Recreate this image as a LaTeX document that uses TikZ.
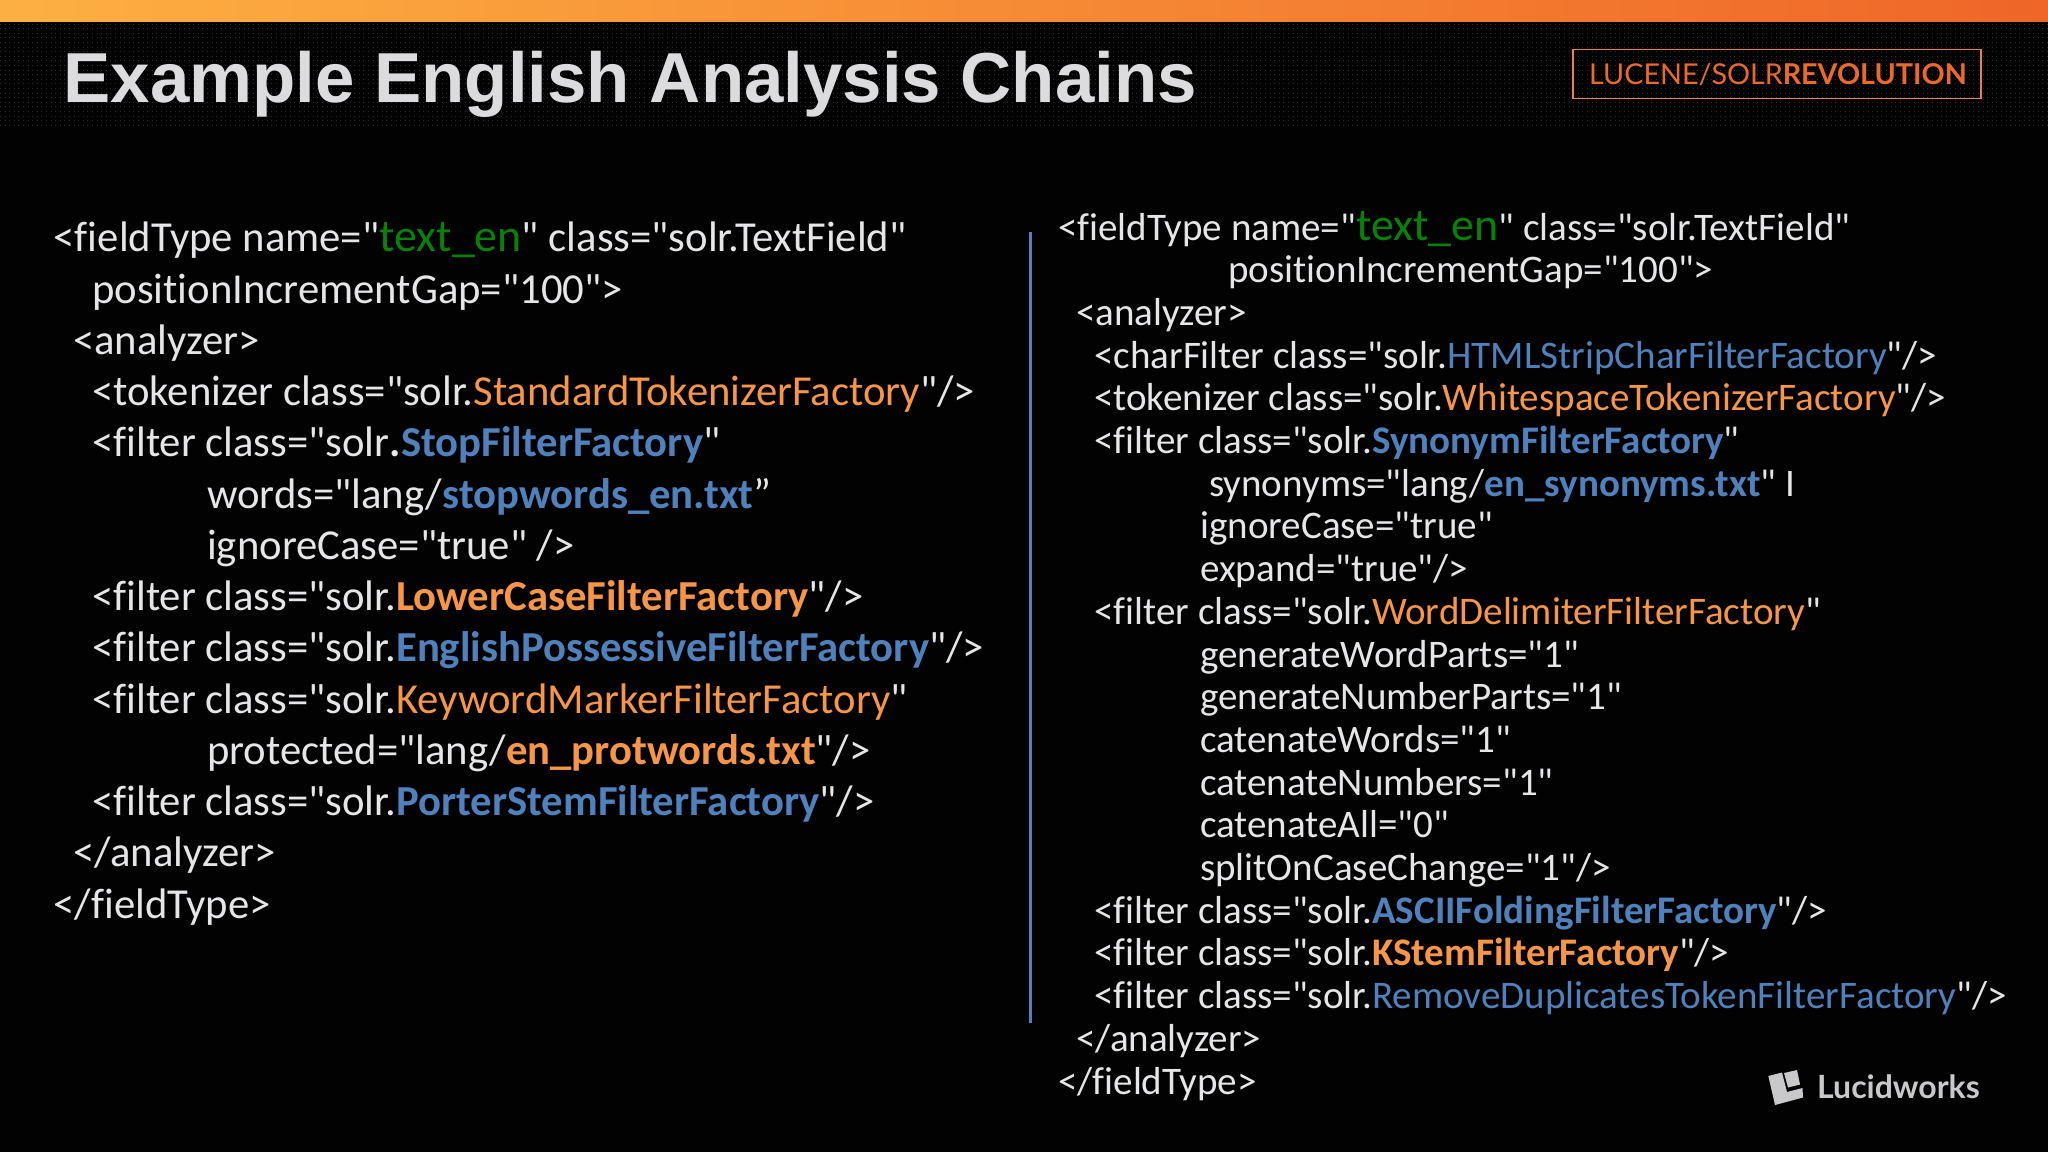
\documentclass[tikz,border=0pt]{standalone}
\usepackage{fontspec}
\setmainfont{Carlito}[Ligatures={TeXOff,NoCommon}]
\newfontfamily\titlefont{Liberation Sans}
\newfontfamily\logofont{Lato}
\definecolor{bgk}{HTML}{020203}
\definecolor{txt}{HTML}{E6E6E8}
\definecolor{blu}{HTML}{4F81BD}
\definecolor{org}{HTML}{F79646}
\definecolor{grn}{HTML}{078107}
\definecolor{ttl}{HTML}{DCDCDE}
\definecolor{rev}{HTML}{EA6A2A}
\definecolor{lgo}{HTML}{C9C8CA}
\definecolor{barl}{HTML}{FDB042}
\definecolor{barr}{HTML}{EF6628}
\newcommand{\Bl}[1]{\textcolor{blu}{#1}}
\newcommand{\Or}[1]{\textcolor{org}{#1}}
\newcommand{\BB}[1]{\textcolor{blu}{\bfseries #1}}
\newcommand{\OB}[1]{\textcolor{org}{\bfseries #1}}
\newcommand{\Gr}[1]{\textcolor{grn}{\fontsize{46}{46}\selectfont #1}}
\begin{document}
\begin{tikzpicture}[x=1pt,y=-1pt,
  lft/.style={anchor=base west,inner sep=0pt,text=txt,font=\fontsize{42.7}{50}\selectfont},
  rgt/.style={anchor=base west,inner sep=0pt,text=txt,font=\fontsize{39.05}{42}\selectfont}]
\useasboundingbox (0,0) rectangle (2048,1152);
\fill[bgk] (0,0) rectangle (2048,1152);
\shade[left color=barl, right color=barr] (0,0) rectangle (2048,21.5);
\foreach \yy in {24,28.6,...,126}{
  \draw[black!83,line width=1pt,dash pattern=on 1pt off 3.6pt] (0,\yy) -- (2048,\yy);
}
\node[anchor=base west,inner sep=0pt,text=ttl,font=\titlefont\bfseries\fontsize{70.8}{80}\selectfont] (title) at (63.5,102) {Example English Analysis Chains};
\node[draw=rev!85!white,line width=1.8pt,minimum width=408pt,minimum height=49pt,inner sep=0pt,anchor=north west] (badge) at (1572,48.5) {};
\node[anchor=base west,inner sep=0pt,text=rev,font=\logofont\fontsize{28.7}{30}\selectfont] (badgetext) at (1589,84) {LUCENE/SOLR{\bfseries REVOLUTION}};
\coordinate (divtop) at (1030.5,232);
\coordinate (divbot) at (1030.5,1023);
\draw[blu,line width=2.8pt] (divtop) -- (divbot);
% left column
\node[lft] (l1) at (53.5,251.7) {<fieldType name="\Gr{text\_en}" class="solr.TextField"};
\node[lft] (l2) at (92,303) {positionIncrementGap="100">};
\node[lft] (l3) at (73,354.2) {<analyzer>};
\node[lft] (l4) at (92,405.5) {<tokenizer class="solr.\Or{StandardTokenizerFactory}"/>};
\node[lft] (l5) at (92,456.7) {<filter class="solr{\bfseries .}\BB{StopFilterFactory}"};
\node[lft] (l6) at (207,508) {words="lang/\BB{stopwords\_en.txt}”};
\node[lft] (l7) at (207,559.2) {ignoreCase="true" />};
\node[lft] (l8) at (92,610.5) {<filter class="solr.\OB{LowerCaseFilterFactory}"/>};
\node[lft] (l9) at (92,661.7) {<filter class="solr.\BB{EnglishPossessiveFilterFactory}"/>};
\node[lft] (l10) at (92,713) {<filter class="solr.\Or{KeywordMarkerFilterFactory}"};
\node[lft] (l11) at (207,764.2) {protected="lang/\OB{en\_protwords.txt}"/>};
\node[lft] (l12) at (92,815.5) {<filter class="solr.\BB{PorterStemFilterFactory}"/>};
\node[lft] (l13) at (73,866.7) {</analyzer>};
\node[lft] (l14) at (53.5,918) {</fieldType>};
% right column
\node[rgt] (r1) at (1058,240) {<fieldType name="\Gr{text\_en}" class="solr.TextField"};
\node[rgt] (r2) at (1228,282.7) {positionIncrementGap="100">};
\node[rgt] (r3) at (1076,325.4) {<analyzer>};
\node[rgt] (r4) at (1094,368.1) {<charFilter class="solr.\Bl{HTMLStripCharFilterFactory}"/>};
\node[rgt] (r5) at (1094,410.8) {<tokenizer class="solr.\Or{WhitespaceTokenizerFactory}"/>};
\node[rgt] (r6) at (1094,453.5) {<filter class="solr.\BB{SynonymFilterFactory}"};
\node[rgt] (r7) at (1209,496.2) {synonyms="lang/\BB{en\_synonyms.txt}" I};
\node[rgt] (r8) at (1200,538.9) {ignoreCase="true"};
\node[rgt] (r9) at (1200,581.6) {expand="true"/>};
\node[rgt] (r10) at (1094,624.3) {<filter class="solr.\Or{WordDelimiterFilterFactory}"};
\node[rgt] (r11) at (1200,667) {generateWordParts="1"};
\node[rgt] (r12) at (1200,709.7) {generateNumberParts="1"};
\node[rgt] (r13) at (1200,752.4) {catenateWords="1"};
\node[rgt] (r14) at (1200,795.1) {catenateNumbers="1"};
\node[rgt] (r15) at (1200,837.8) {catenateAll="0"};
\node[rgt] (r16) at (1200,880.5) {splitOnCaseChange="1"/>};
\node[rgt] (r17) at (1094,923.2) {<filter class="solr.\BB{ASCIIFoldingFilterFactory}"/>};
\node[rgt] (r18) at (1094,965.9) {<filter class="solr.\OB{KStemFilterFactory}"/>};
\node[rgt] (r19) at (1094,1008.6) {<filter class="solr.\Bl{RemoveDuplicatesTokenFilterFactory}"/>};
\node[rgt] (r20) at (1076,1051.3) {</analyzer>};
\node[rgt] (r21) at (1058,1094) {</fieldType>};
% logo
\fill[lgo] (1768.3,1076) -- (1782,1072.5) -- (1787,1092) -- (1802.5,1088) -- (1803,1097.5) -- (1775,1105) -- cycle;
\fill[lgo] (1784,1073) -- (1797,1070) -- (1800,1084.5) -- (1788,1087.5) -- cycle;
\node[anchor=base west,inner sep=0pt,text=lgo,font=\logofont\bfseries\fontsize{32}{32}\selectfont] (lw) at (1817,1098) {Lucidworks};
\end{tikzpicture}
\end{document}
